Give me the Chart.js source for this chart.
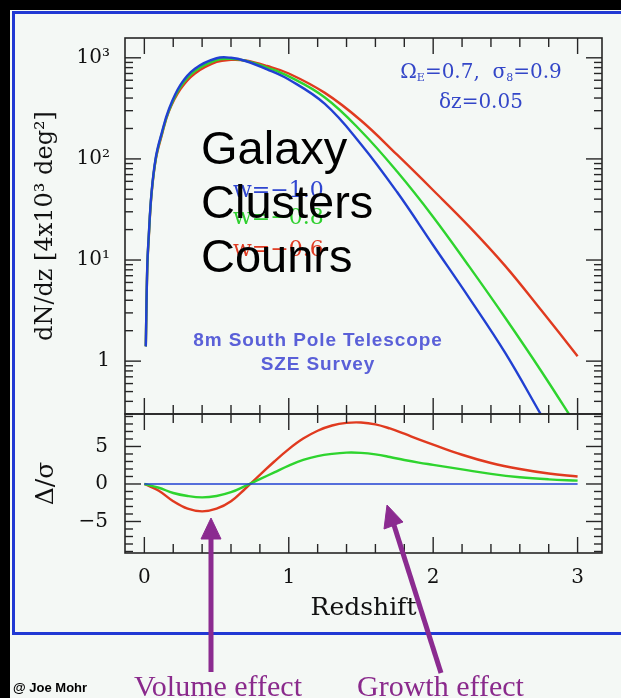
<!DOCTYPE html>
<html>
<head>
<meta charset="utf-8">
<script src="https://cdn.jsdelivr.net/npm/chart.js@4.4.1/dist/chart.umd.min.js"></script>
<style>
  html, body { margin: 0; padding: 0; background: #000; }
  #stage { position: relative; width: 621px; height: 698px; overflow: hidden; background: #000; }
  #paper { position: absolute; left: 10px; top: 10px; width: 611px; height: 688px; background: #f4f8f5; }
  #border { position: absolute; left: 12px; top: 11px; width: 660px; height: 624px; border: 3px solid #2038d4; box-sizing: border-box; }
  canvas { position: absolute; left: 0; top: 0; }
  .t { position: absolute; white-space: nowrap; line-height: 1; }
  .t sub { font-size: 55%; vertical-align: -0.25em; }
  svg { position: absolute; left: 0; top: 0; }
</style>
</head>
<body>
<div id="stage">
  <div id="paper"></div>
  <div id="border"></div>
  <canvas id="countChart" width="621" height="698"></canvas>
  <canvas id="diffChart" width="621" height="698"></canvas>

  <div class="t" style="left:381px; top:59px; width:200px; text-align:center; color:#3346c8; font:20px 'DejaVu Serif';">Ω<sub>E</sub>=0.7,&nbsp; σ<sub>8</sub>=0.9</div>
  <div class="t" style="left:381px; top:89px; width:200px; text-align:center; color:#3346c8; font:20px 'DejaVu Serif';">δz=0.05</div>

  <div class="t" style="left:233px; top:177px; color:#2e45d0; font:22px 'DejaVu Serif';">w=−1.0</div>
  <div class="t" style="left:233px; top:204px; color:#2fd02f; font:22px 'DejaVu Serif';">w=−0.8</div>
  <div class="t" style="left:233px; top:236px; color:#e03b22; font:22px 'DejaVu Serif';">w=−0.6</div>

  <div class="t" style="left:201px; top:121px; color:#000; font:47px 'Liberation Sans'; line-height:54px;">Galaxy<br>Clusters<br>Counrs</div>

  <div class="t" style="left:168px; top:329px; width:300px; text-align:center; color:#5a60d8; font:bold 19px 'Liberation Sans'; letter-spacing:0.9px;">8m South Pole Telescope</div>
  <div class="t" style="left:168px; top:353px; width:300px; text-align:center; color:#5a60d8; font:bold 19px 'Liberation Sans'; letter-spacing:0.9px;">SZE Survey</div>

  <div class="t" style="left:13px; top:680px; color:#000; font:bold 13px 'Liberation Sans';">@ Joe Mohr</div>
  <div class="t" style="left:134px; top:669px; color:#8a2a8c; font:30px 'Liberation Serif';">Volume effect</div>
  <div class="t" style="left:357px; top:669px; color:#8a2a8c; font:30px 'Liberation Serif';">Growth effect</div>

  <svg width="621" height="698" viewBox="0 0 621 698">
    <g fill="#8b2b90" stroke="#8b2b90">
      <line x1="211" y1="672" x2="211" y2="536" stroke-width="5"/>
      <polygon points="211,518 201,539 221,539" stroke-width="1"/>
      <line x1="441" y1="673" x2="393" y2="522" stroke-width="5"/>
      <polygon points="387,505 403,522 384,529" stroke-width="1"/>
    </g>
  </svg>
</div>

<script>
// Redshift grid of the cluster count curves
const zCounts = [0.01, 0.02, 0.03, 0.05, 0.08, 0.12, 0.17, 0.25, 0.35, 0.5, 0.6, 0.7, 0.85, 1.0, 1.25, 1.5, 1.75, 2.0, 2.25, 2.5, 2.75, 3.0];
// dN/dz for each dark energy equation of state
const countsW10 = [1.4, 8.5, 17, 47, 105, 180, 310, 540, 780, 990, 1000, 930, 770, 610, 350, 140, 47, 14, 4.2, 1.2, 0.29, null];
const countsW08 = [1.4, 8.2, 16.5, 46, 102, 175, 300, 515, 740, 950, 975, 935, 800, 655, 405, 189, 75, 26.7, 8.6, 2.67, 0.79, 0.22];
const countsW06 = [1.4, 8.0, 16, 45, 100, 170, 295, 490, 700, 910, 955, 940, 830, 700, 450, 240, 110, 49, 21.4, 8.7, 3.16, 1.12];

// Redshift grid of the significance curves
const zDiff = [0, 0.1, 0.2, 0.3, 0.4, 0.5, 0.6, 0.7, 0.8, 0.9, 1.0, 1.1, 1.2, 1.3, 1.4, 1.5, 1.6, 1.7, 1.8, 1.9, 2.0, 2.2, 2.4, 2.6, 2.8, 3.0];
const diffW10 = [0, 0, 0, 0, 0, 0, 0, 0, 0, 0, 0, 0, 0, 0, 0, 0, 0, 0, 0, 0, 0, 0, 0, 0, 0, 0];
const diffW08 = [0, -0.5, -1.2, -1.6, -1.78, -1.6, -1.1, -0.25, 0.65, 1.55, 2.45, 3.2, 3.72, 4.02, 4.18, 4.15, 3.95, 3.6, 3.2, 2.85, 2.55, 1.95, 1.35, 0.9, 0.62, 0.45];
const diffW06 = [0, -0.9, -2.3, -3.3, -3.65, -3.3, -2.3, -0.6, 1.2, 3.0, 4.65, 6.05, 7.1, 7.8, 8.15, 8.2, 7.95, 7.4, 6.7, 5.95, 5.25, 3.9, 2.8, 2.0, 1.4, 1.0];

// Axis ticks and labels
const countTickValues = [1, 10, 100, 1000];
const countTickLabels = ['1', '10¹', '10²', '10³'];
const diffTickValues = [-5, 0, 5];
const diffTickLabels = ['−5', '0', '5'];
const zTickValues = [0, 1, 2, 3];
const zTickLabels = ['0', '1', '2', '3'];

const BLUE = '#2140d2', GREEN = '#2ed42e', RED = '#e03a1f';
const AXIS_FONT = { family: 'DejaVu Serif', size: 20 };
const TITLE_FONT = { family: 'DejaVu Serif', size: 24 };
const TITLE_FONT_L = { family: 'DejaVu Serif', size: 25 };

const pts = (xs, ys) => xs.map((x, i) => ({ x, y: ys[i] }));

// Box frame with inward tick marks on all four sides
const frameTicks = {
  id: 'frameTicks',
  afterDatasetsDraw(chart, args, opts) {
    const { ctx, chartArea: a, scales } = chart;
    const xs = scales.x, ys = scales.y;
    const seg = (x1, y1, x2, y2) => { ctx.beginPath(); ctx.moveTo(x1, y1); ctx.lineTo(x2, y2); ctx.stroke(); };
    ctx.save();
    ctx.strokeStyle = '#262626';
    ctx.lineWidth = 1.6;
    ctx.strokeRect(a.left, a.top, a.right - a.left, a.bottom - a.top);
    ctx.lineWidth = 1.4;
    for (let k = 0; k <= 15; k++) {
      const px = xs.getPixelForValue(k * 0.2);
      const len = k % 5 === 0 ? 16 : 9;
      seg(px, a.top, px, a.top + len);
      seg(px, a.bottom, px, a.bottom - len);
    }
    opts.yMarks(ys).forEach(([v, major]) => {
      const py = ys.getPixelForValue(v);
      const len = major ? 16 : 8;
      seg(a.left, py, a.left + len, py);
      seg(a.right, py, a.right - len, py);
    });
    ctx.restore();
  }
};

const logMarks = (s) => {
  const out = [];
  for (let e = -1; e <= 3; e++) {
    for (let m = 1; m <= 9; m++) {
      const v = m * Math.pow(10, e);
      if (v >= s.min && v <= s.max) out.push([v, m === 1]);
    }
  }
  return out;
};
const linMarks = (s) => {
  const out = [];
  for (let v = Math.ceil(s.min); v <= Math.floor(s.max); v++) out.push([v, v % 5 === 0]);
  return out;
};

const X_MIN = -0.134, X_MAX = 3.169;

const lineSet = (label, data, color, width) => ({
  label, data, borderColor: color, borderWidth: width, pointRadius: 0,
  fill: false, tension: 0.4, spanGaps: false
});

new Chart(document.getElementById('countChart'), {
  type: 'line',
  data: {
    datasets: [
      lineSet('w=-1.0', pts(zCounts, countsW10), BLUE, 2.4),
      lineSet('w=-0.8', pts(zCounts, countsW08), GREEN, 2.4),
      lineSet('w=-0.6', pts(zCounts, countsW06), RED, 2.4)
    ]
  },
  options: {
    responsive: false,
    animation: false,
    devicePixelRatio: 1,
    layout: { padding: { left: 0, top: 38, right: 19, bottom: 284 } },
    plugins: { legend: { display: false }, tooltip: { enabled: false }, frameTicks: { yMarks: logMarks } },
    scales: {
      x: { type: 'linear', min: X_MIN, max: X_MAX, display: false },
      y: {
        type: 'logarithmic', min: 0.321, max: 1570,
        grid: { display: false, drawTicks: false }, border: { display: false },
        afterBuildTicks: (s) => { s.ticks = countTickValues.map(v => ({ value: v })); },
        afterFit: (s) => { s.width = 125; },
        ticks: {
          color: '#111', font: AXIS_FONT, padding: 15,
          callback: (v) => countTickLabels[countTickValues.indexOf(v)]
        },
        title: {
          display: true, text: 'dN/dz [4x10³ deg²]', color: '#111', font: TITLE_FONT,
          padding: { top: 31, bottom: 0 }
        }
      }
    }
  },
  plugins: [frameTicks]
});

new Chart(document.getElementById('diffChart'), {
  type: 'line',
  data: {
    datasets: [
      lineSet('w=-1.0', pts(zDiff, diffW10), BLUE, 1.6),
      lineSet('w=-0.8', pts(zDiff, diffW08), GREEN, 2.4),
      lineSet('w=-0.6', pts(zDiff, diffW06), RED, 2.4)
    ]
  },
  options: {
    responsive: false,
    animation: false,
    devicePixelRatio: 1,
    layout: { padding: { left: 0, top: 414, right: 19, bottom: 75 } },
    plugins: { legend: { display: false }, tooltip: { enabled: false }, frameTicks: { yMarks: linMarks } },
    scales: {
      x: {
        type: 'linear', min: X_MIN, max: X_MAX,
        grid: { display: false, drawTicks: false }, border: { display: false },
        afterBuildTicks: (s) => { s.ticks = zTickValues.map(v => ({ value: v })); },
        afterFit: (s) => { s.height = 70; },
        ticks: {
          color: '#111', font: AXIS_FONT, padding: 13, maxRotation: 0,
          callback: (v) => zTickLabels[zTickValues.indexOf(v)]
        },
        title: {
          display: true, text: 'Redshift', color: '#111', font: TITLE_FONT_L,
          padding: { top: 0, bottom: 0 }
        }
      },
      y: {
        type: 'linear', min: -9.2, max: 9.33,
        grid: { display: false, drawTicks: false }, border: { display: false },
        afterBuildTicks: (s) => { s.ticks = diffTickValues.map(v => ({ value: v })); },
        afterFit: (s) => { s.width = 125; },
        ticks: {
          color: '#111', font: AXIS_FONT, padding: 17,
          callback: (v) => diffTickLabels[diffTickValues.indexOf(v)]
        },
        title: {
          display: true, text: 'Δ/σ', color: '#111', font: TITLE_FONT_L,
          padding: { top: 31, bottom: 0 }
        }
      }
    }
  },
  plugins: [frameTicks]
});
</script>
</body>
</html>
